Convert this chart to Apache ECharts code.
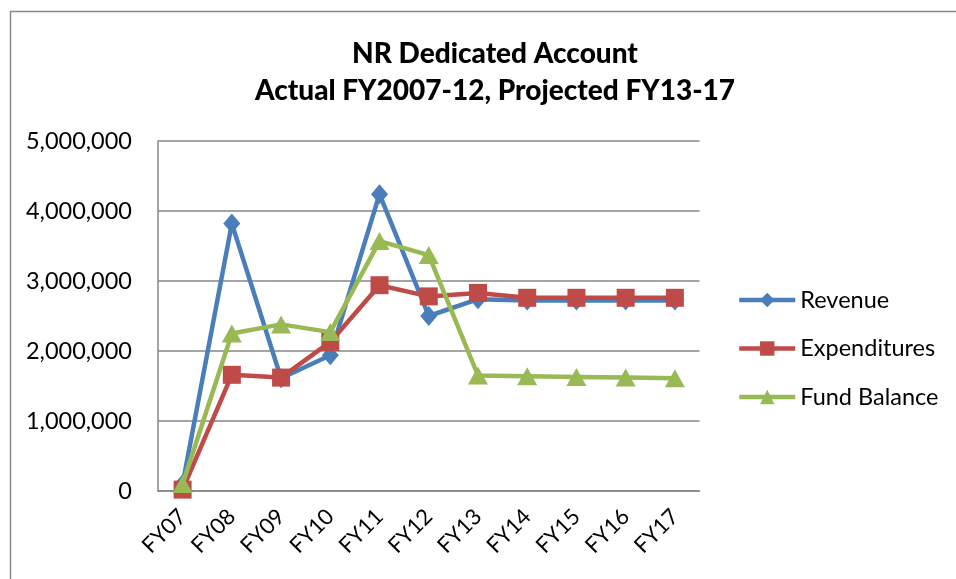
<!DOCTYPE html>
<html>
<head>
<meta charset="utf-8">
<script src="https://cdn.jsdelivr.net/npm/echarts@6/dist/echarts.min.js"></script>
<style>
html,body{margin:0;padding:0;background:#fff;}
#c{width:956px;height:579px;}
</style>
</head>
<body>
<div id="c"></div>
<script>
const categories = ['FY07','FY08','FY09','FY10','FY11','FY12','FY13','FY14','FY15','FY16','FY17'];
const revenue = [100000, 3820000, 1610000, 1940000, 4240000, 2500000, 2740000, 2720000, 2720000, 2720000, 2720000];
const expenditures = [20000, 1660000, 1620000, 2130000, 2940000, 2780000, 2830000, 2760000, 2760000, 2760000, 2760000];
const fundBalance = [100000, 2250000, 2380000, 2270000, 3570000, 3370000, 1650000, 1640000, 1630000, 1620000, 1610000];
const yTicks = [0, 1000000, 2000000, 3000000, 4000000, 5000000];

const FONT = 'Lato';
const chart = echarts.init(document.getElementById('c'), null, {renderer: 'canvas'});
function fmt(v){ return v.toLocaleString('en-US'); }
chart.setOption({
  animation: false,
  backgroundColor: '#fff',
  graphic: [{
    type: 'rect', left: 8, top: 9, shape: {width: 1000, height: 1000},
    style: {fill: 'none', stroke: '#8a8a8a', lineWidth: 1.5}, silent: true, z: -1
  }],
  title: {
    text: 'NR Dedicated Account\nActual FY2007-12, Projected FY13-17',
    left: 490, top: 30, textAlign: 'center',
    textStyle: {fontFamily: FONT, fontWeight: 900, fontSize: 28, lineHeight: 37, color: '#000'}
  },
  legend: {
    orient: 'vertical', left: 737, top: 287, padding: 0,
    itemWidth: 56, itemHeight: 18, itemGap: 22.5,
    lineStyle: {width: 4.5},
    textStyle: {fontFamily: FONT, fontSize: 23.5, lineHeight: 26, color: '#000'},
    data: ['Revenue','Expenditures','Fund Balance']
  },
  grid: {left: 158, right: 256.5, top: 141, bottom: 88, containLabel: false},
  xAxis: {
    type: 'category', data: categories, boundaryGap: true,
    axisLine: {lineStyle: {color: '#868686', width: 1.5}},
    axisTick: {show: false},
    axisLabel: {rotate: 45, fontFamily: FONT, fontSize: 22, color: '#000', margin: 22, interval: 0}
  },
  yAxis: {
    type: 'value', min: 0, max: 5000000, interval: 1000000,
    axisLine: {show: true, lineStyle: {color: '#868686', width: 1.5}},
    axisTick: {show: false},
    splitLine: {lineStyle: {color: '#868686', width: 1.5}},
    axisLabel: {fontFamily: FONT, fontSize: 23.5, color: '#000', margin: 26, formatter: v => fmt(v)}
  },
  series: [
    {name: 'Revenue', type: 'line', data: revenue, symbol: 'diamond', symbolSize: [17, 20],
     color: '#4A7EBB', lineStyle: {width: 4.5, color: '#4A7EBB'}, itemStyle: {color: '#4A7EBB'}, z: 2},
    {name: 'Expenditures', type: 'line', data: expenditures, symbol: 'rect', symbolSize: 18,
     color: '#BE4B48', lineStyle: {width: 4.5, color: '#BE4B48'}, itemStyle: {color: '#BE4B48'}, z: 3},
    {name: 'Fund Balance', type: 'line', data: fundBalance, symbol: 'triangle', symbolSize: [20, 18],
     color: '#98B954', lineStyle: {width: 4.5, color: '#98B954'}, itemStyle: {color: '#98B954'}, z: 4}
  ]
});
</script>
</body>
</html>
